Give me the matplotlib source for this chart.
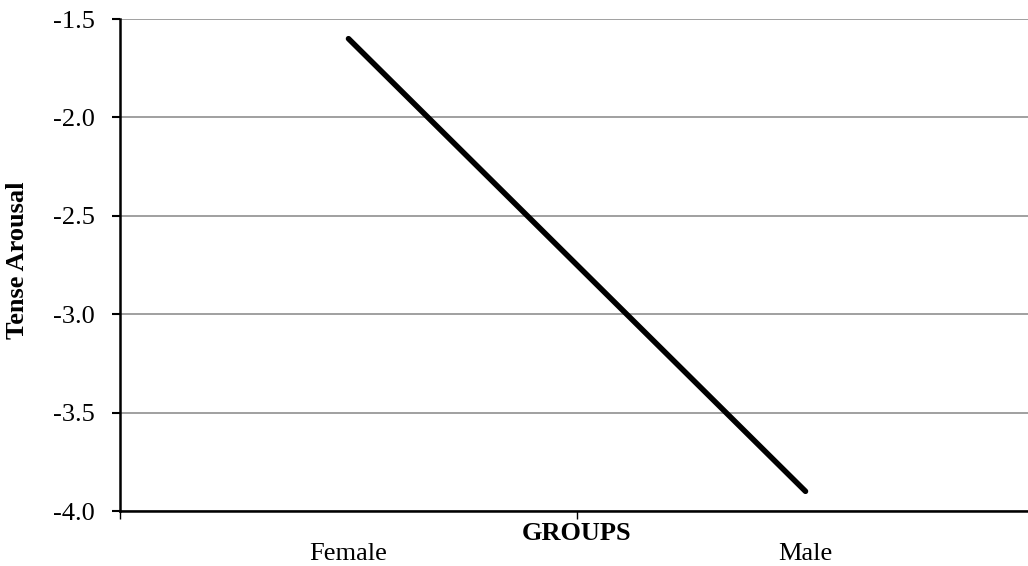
import matplotlib
matplotlib.use("Agg")
import matplotlib.pyplot as plt

categories = ["Female", "Male"]
values = [-1.6, -3.9]
yticks = [-4.0, -3.5, -3.0, -2.5, -2.0, -1.5]

plt.rcParams['font.family'] = ['Liberation Serif', 'DejaVu Serif']

fig = plt.figure(figsize=(10.28, 5.66), dpi=100)
W, H = 1028, 566
left, right, top, bottom = 120, 1034, 19, 511
ax = fig.add_axes([left / W, 1 - bottom / H, (right - left) / W, (bottom - top) / H])

xpos = [i + 0.5 for i in range(len(categories))]
ax.plot(xpos, values, color='black', lw=4.0, solid_capstyle='round', zorder=3)

FS = 19
ax.set_xlim(0, len(categories))
ax.set_ylim(-4.0, -1.5)
ax.set_yticks(yticks)
ax.set_yticklabels([f"{v:.1f}" for v in yticks], fontsize=FS)
ax.yaxis.grid(True, color='#a0a0a0', lw=1.4)
ax.set_axisbelow(True)

ax.set_xticks(range(len(categories) + 1))
ax.set_xticklabels([])
ax.set_xticks(xpos, minor=True)
ax.set_xticklabels(categories, minor=True, fontsize=FS)
ax.tick_params(axis='x', which='minor', length=0, pad=23)
ax.tick_params(axis='x', which='major', length=6, width=1, direction='out')
ax.tick_params(axis='y', which='major', length=6, width=1.5, direction='out', pad=12)

for s in ['top', 'right']:
    ax.spines[s].set_visible(False)
ax.spines['left'].set_linewidth(1.8)
ax.spines['bottom'].set_linewidth(1.8)

fig.text(577 / W, 1 - 534 / H, "GROUPS", fontsize=FS, fontweight='bold',
         ha='center', va='center')
fig.text(18 / W, 1 - 260 / H, "Tense Arousal", fontsize=FS, fontweight='bold',
         ha='center', va='center', rotation=90)

fig.savefig("out.png", dpi=100)
